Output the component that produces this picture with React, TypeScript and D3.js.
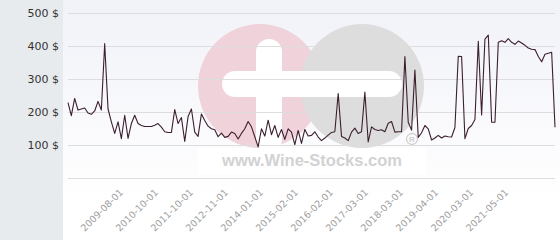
import React from "react";
import * as d3 from "d3";

const prices: number[] = [
  229, 190, 242, 207, 210, 213, 198, 194, 204, 233, 207, 408, 210, 171, 136, 171, 120, 191, 121, 166,
  191, 166, 160, 157, 157, 157, 161, 166, 155, 141, 139, 139, 208, 166, 184, 112, 187, 210, 140, 127,
  195, 175, 158, 150, 147, 126, 137, 124, 127, 140, 136, 119, 136, 150, 172, 156, 126, 95, 150, 128,
  176, 132, 160, 124, 148, 118, 150, 140, 102, 145, 106, 148, 128, 130, 141, 125, 114, 122, 131, 139,
  141, 257, 127, 122, 114, 140, 152, 136, 141, 261, 110, 156, 148, 145, 147, 141, 167, 172, 140, 141,
  141, 369, 170, 146, 328, 124, 138, 160, 150, 116, 122, 130, 122, 128, 126, 125, 154, 370, 369, 120,
  151, 160, 178, 415, 192, 422, 434, 170, 170, 412, 417, 412, 423, 412, 406, 416, 410, 403, 395, 391,
  390, 369, 353, 376, 379, 382, 155,
];

const yTickValues: number[] = [0, 100, 200, 300, 400, 500];
const xTickLabels: string[] = [
  "2009-08-01", "2010-10-01", "2011-10-01", "2012-11-01", "2014-01-01", "2015-02-01",
  "2016-02-01", "2017-03-01", "2018-03-01", "2019-04-01", "2020-03-01", "2021-05-01",
];
const firstLabelIndex = 17;
const labelStep = 10.5;

const W = 560;
const H = 240;
const PANEL_W = 63;

export default function App() {
  const x = d3.scaleLinear().domain([0, prices.length - 1]).range([68, 555]);
  const y = d3.scaleLinear().domain([0, 500]).range([178.3, 13.3]);
  const line = d3
    .line<number>()
    .x((_, i) => x(i))
    .y((d) => y(d));
  const font = "'DejaVu Sans', sans-serif";

  return (
    <svg
      width={W}
      height={H}
      style={{ position: "absolute", left: 0, top: 0, display: "block" }}
    >
      <defs>
        <linearGradient id="plotbg" x1="0" y1="0" x2="0" y2="1">
          <stop offset="0%" stopColor="#f1f2f8" />
          <stop offset="85%" stopColor="#ffffff" />
        </linearGradient>
      </defs>
      <rect x={0} y={0} width={W} height={H} fill="#ffffff" />
      <rect x={PANEL_W} y={0} width={W - PANEL_W} height={H} fill="url(#plotbg)" />
      <rect x={0} y={0} width={PANEL_W} height={H} fill="#e7ebee" />

      {/* watermark */}
      <g>
        <circle cx={260} cy={86} r={62} fill="#f0d2da" />
        <circle cx={362} cy={86} r={62} fill="#dddddd" />
        <rect x={256} y={39} width={26} height={113} rx={13} fill="#ffffff" />
        <rect x={222} y={71} width={180} height={26} rx={13} fill="#ffffff" />
        <rect x={198} y={148} width={228} height={26} fill="#ffffff" opacity={0.85} />
        <text
          x={312}
          y={166}
          textAnchor="middle"
          fontFamily="'Liberation Sans', Arial, sans-serif"
          fontWeight="bold"
          fontSize={16.5}
          fill="#d2d2d2"
        >
          www.Wine-Stocks.com
        </text>
        <circle cx={412} cy={139} r={5.5} fill="none" stroke="#d0d0d0" strokeWidth={1.3} />
        <text
          x={412}
          y={142}
          textAnchor="middle"
          fontFamily="'Liberation Sans', Arial, sans-serif"
          fontWeight="bold"
          fontSize={8}
          fill="#d0d0d0"
        >
          R
        </text>
      </g>

      {/* grid */}
      {yTickValues.map((v) => (
        <line
          key={v}
          x1={68}
          x2={555}
          y1={Math.round(y(v)) + 0.5}
          y2={Math.round(y(v)) + 0.5}
          stroke="#dddddd"
          strokeWidth={1}
        />
      ))}

      {/* y labels */}
      {yTickValues
        .filter((v) => v > 0)
        .map((v) => (
          <text
            key={v}
            x={59}
            y={y(v) + 4}
            textAnchor="end"
            fontFamily={font}
            fontSize={11}
            fill="#333333"
          >
            {`${v} $`}
          </text>
        ))}

      {/* x labels */}
      {xTickLabels.map((lab, i) => {
        const tx = x(firstLabelIndex + i * labelStep) - 1;
        const ty = 193;
        return (
          <text
            key={lab}
            x={tx}
            y={ty}
            textAnchor="end"
            transform={`rotate(-45 ${tx} ${ty})`}
            fontFamily={font}
            fontSize={9.5}
            fill="#a0a0a0"
          >
            {lab}
          </text>
        );
      })}

      <path d={line(prices) || ""} fill="none" stroke="#3b1f2e" strokeWidth={1.1} strokeLinejoin="round" />
    </svg>
  );
}
